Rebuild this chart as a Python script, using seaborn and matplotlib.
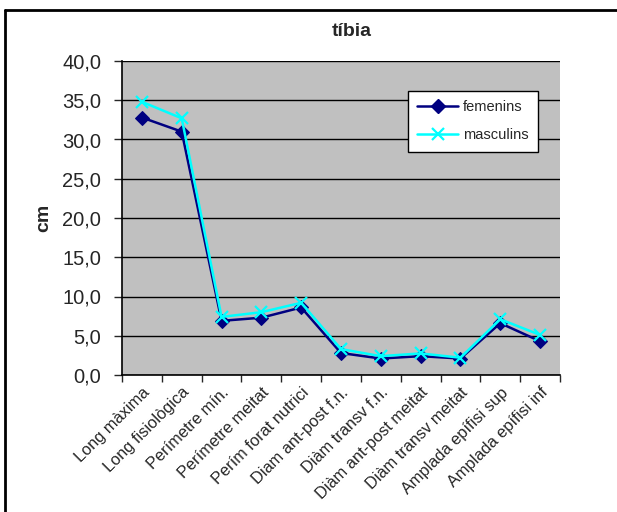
import matplotlib
matplotlib.use("Agg")
import matplotlib.pyplot as plt
import seaborn as sns
import pandas as pd
from matplotlib.lines import Line2D
from matplotlib.ticker import FixedLocator, FuncFormatter

# Dades tíbia (cm)
mesures = ["Long màxima", "Long fisiològica", "Perímetre mín.", "Perímetre meitat",
           "Perím forat nutrici", "Diam ant-post f.n.", "Diàm transv f.n.",
           "Diàm ant-post meitat", "Diàm transv meitat", "Amplada epífisi sup",
           "Amplada epífisi inf"]
femenins = [32.8, 31.0, 6.9, 7.3, 8.6, 2.8, 2.1, 2.4, 2.1, 6.6, 4.3]
masculins = [34.8, 32.7, 7.4, 8.0, 9.2, 3.3, 2.4, 2.75, 2.2, 7.1, 5.1]

df = pd.DataFrame({"mesura": list(range(len(mesures))) * 2,
                   "valor": femenins + masculins,
                   "grup": ["femenins"] * len(mesures) + ["masculins"] * len(mesures)})

sns.set_style("white")
plt.rcParams['font.family'] = ['Liberation Sans', 'DejaVu Sans']

fig = plt.figure(figsize=(6.17, 5.12), dpi=100)
ax = fig.add_axes([122/617, 1 - 375/512, (560 - 122)/617, (375 - 61)/512])
ax.set_facecolor("#C0C0C0")

colors = {"femenins": "#000080", "masculins": "#00FFFF"}
sns.lineplot(data=df[df.grup == "femenins"], x="mesura", y="valor", color=colors["femenins"],
             marker="D", markersize=7, markeredgecolor=colors["femenins"], linewidth=1.8,
             ax=ax, legend=False, zorder=3)
sns.lineplot(data=df[df.grup == "masculins"], x="mesura", y="valor", color=colors["masculins"],
             marker="x", markersize=9, markeredgewidth=1.6, markeredgecolor=colors["masculins"],
             linewidth=1.8, ax=ax, legend=False, zorder=3)

ax.set_xlim(-0.5, len(mesures) - 0.5)
ax.set_ylim(0, 40)
ax.set_yticks([0, 5, 10, 15, 20, 25, 30, 35, 40])
ax.yaxis.set_major_formatter(FuncFormatter(lambda v, p: f"{v:.1f}".replace(".", ",")))
ax.yaxis.grid(True, color="black", linewidth=1)
ax.set_axisbelow(True)

# ticks between categories, labels at centres
ax.xaxis.set_major_locator(FixedLocator([i - 0.5 for i in range(len(mesures) + 1)]))
ax.xaxis.set_major_formatter(FuncFormatter(lambda v, p: ""))
ax.xaxis.set_minor_locator(FixedLocator(list(range(len(mesures)))))
ax.set_xticklabels(mesures, minor=True, rotation=45, ha="right", rotation_mode="anchor",
                   fontsize=11.8)
ax.tick_params(axis="x", which="minor", length=0, pad=7)
ax.tick_params(axis="x", which="major", length=5, width=1, direction="out", bottom=True)
ax.tick_params(axis="y", length=6, width=1, direction="out", left=True, labelsize=14.5, pad=9)

for s in ["top", "right"]:
    ax.spines[s].set_visible(False)
for s in ["left", "bottom"]:
    ax.spines[s].set_color("black")
    ax.spines[s].set_linewidth(1.2)

ax.set_xlabel("")
ax.set_ylabel("cm", fontsize=14, fontweight="bold", labelpad=7)

handles = [Line2D([], [], color=colors["femenins"], marker="D", markersize=7, linewidth=1.8),
           Line2D([], [], color=colors["masculins"], marker="x", markersize=9,
                  markeredgewidth=1.6, linewidth=1.8)]
leg = ax.legend(handles, ["femenins", "masculins"], loc="upper left",
                bbox_to_anchor=((408 - 122)/438, 1 - (91 - 61)/314), fontsize=10.5,
                frameon=True, fancybox=False, edgecolor="black", framealpha=1,
                borderpad=0.65, borderaxespad=0, labelspacing=0.95, handlelength=2.8,
                handletextpad=0.3)
leg.get_frame().set_linewidth(1)

fig.text(352/617, 1 - 32/512, "tíbia", ha="center", va="center", fontsize=14, fontweight="bold")

# chart frame (cropped on right and bottom)
fig.add_artist(Line2D([5/617, 1], [1 - 10/512, 1 - 10/512], color="black", linewidth=2,
                      transform=fig.transFigure))
fig.add_artist(Line2D([5/617, 5/617], [0, 1 - 10/512], color="black", linewidth=2,
                      transform=fig.transFigure))

fig.savefig("out.png", dpi=100)
